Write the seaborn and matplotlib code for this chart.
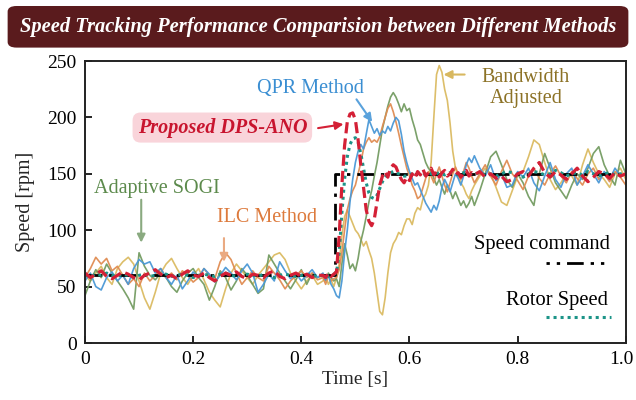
import numpy as np
import pandas as pd
import matplotlib
matplotlib.use("Agg")
import matplotlib.pyplot as plt
import matplotlib.transforms as mtransforms
from matplotlib.patches import FancyBboxPatch
import seaborn as sns

# Sampling instants [s]: 10 ms steps, 5 ms steps around the speed step
time = np.concatenate([np.arange(0, 44) / 100,
                       0.44 + np.arange(56) * 0.005,
                       np.arange(72, 101) / 100])

cmd_time = [0.0, 0.463, 0.463, 1.0]
cmd_speed = [60, 60, 150, 150]

proposed = (
    [62, 58, 61, 64, 59, 57, 60, 63, 61, 58, 56, 60, 62, 65, 61, 58, 60, 57, 61, 64, 60, 59,
     62, 58, 55, 59, 62, 60, 63, 59, 57, 61, 60, 58, 62, 64, 59, 57, 60, 62, 59, 61, 58, 60]
    + [60, 58, 62, 59, 61, 63, 95, 140, 175, 196, 203, 204, 198, 180, 158, 138, 118, 108, 104, 110,
       125, 140, 148, 152, 147, 155, 158, 156, 150, 145, 142, 147, 144, 150, 146, 152, 149, 154,
       148, 151, 155, 149, 152, 147, 151, 153, 148, 150, 154, 149, 151, 147, 150, 153, 148, 151]
    + [149, 152, 147, 150, 146, 148, 143, 145, 150, 152, 148, 155, 160, 151, 147, 152, 149, 145,
       150, 155, 148, 143, 147, 152, 150, 146, 151, 148, 150]
)

rotor = (
    [60, 59, 61, 60, 62, 60, 59, 61, 60, 58, 60, 61, 59, 60, 62, 61, 59, 60, 61, 60, 58, 60,
     61, 60, 59, 61, 62, 60, 59, 60, 61, 60, 59, 61, 60, 58, 60, 61, 60, 59, 60, 61, 60, 59]
    + [60, 61, 59, 60, 61, 62, 80, 115, 145, 165, 176, 181, 182, 178, 168, 155, 142, 133, 129, 128,
       131, 137, 143, 147, 150, 151, 152, 151, 150, 149, 148, 148, 149, 150, 151, 151, 150, 149,
       150, 151, 150, 149, 150, 151, 150, 149, 150, 151, 150, 150, 149, 150, 151, 150, 149, 150]
    + [150, 151, 149, 150, 148, 150, 152, 151, 149, 147, 150, 152, 151, 149, 150, 153, 151, 148,
       150, 151, 149, 152, 150, 148, 150, 151, 149, 150, 150]
)

qpr = (
    [55, 62, 50, 47, 58, 63, 55, 60, 52, 66, 74, 70, 72, 62, 66, 58, 52, 60, 48, 55, 63, 58,
     66, 61, 54, 60, 67, 62, 56, 64, 70, 62, 45, 52, 61, 55, 72, 64, 57, 62, 55, 60, 65, 58]
    + [62, 56, 60, 52, 48, 42, 40, 55, 80, 100, 125, 145, 160, 170, 176, 172, 185, 198, 192, 186,
       190, 184, 188, 186, 192, 188, 195, 200, 197, 185, 170, 160, 152, 146, 140, 142, 136, 130,
       124, 120, 116, 122, 118, 126, 138, 145, 140, 134, 142, 150, 146, 140, 148, 158, 164, 160]
    + [166, 155, 148, 158, 144, 150, 138, 140, 152, 147, 155, 142, 135, 148, 160, 145, 138, 150,
       155, 140, 148, 158, 150, 142, 152, 145, 155, 148, 150]
)

ilc = (
    [58, 66, 76, 70, 75, 64, 68, 60, 52, 57, 50, 62, 55, 60, 66, 58, 62, 56, 64, 60, 54, 58,
     66, 60, 57, 72, 80, 74, 62, 52, 58, 64, 58, 55, 68, 62, 56, 48, 55, 60, 64, 58, 62, 56]
    + [58, 52, 60, 55, 57, 58, 65, 80, 100, 118, 128, 135, 140, 150, 160, 172, 178, 182, 178, 180,
       178, 183, 192, 200, 208, 212, 205, 196, 186, 175, 165, 155, 148, 140, 135, 128, 130, 138,
       146, 152, 148, 142, 150, 156, 148, 140, 134, 142, 150, 156, 150, 145, 152, 160, 155, 148]
    + [142, 150, 158, 148, 140, 152, 162, 150, 144, 136, 148, 155, 146, 140, 150, 157, 148, 142,
       152, 146, 140, 150, 155, 145, 150, 143, 152, 147, 140]
)

sogi = (
    [42, 55, 65, 58, 70, 62, 55, 48, 40, 30, 80, 68, 60, 56, 62, 58, 50, 45, 55, 62, 66, 58,
     52, 38, 50, 64, 58, 47, 55, 66, 60, 52, 44, 48, 78, 70, 62, 55, 48, 56, 65, 52, 62, 58]
    + [60, 55, 62, 58, 55, 57, 50, 70, 88, 78, 66, 70, 64, 75, 90, 100, 112, 125, 135, 148,
       160, 175, 190, 200, 210, 218, 222, 218, 212, 205, 212, 206, 208, 198, 190, 180, 176, 168,
       160, 155, 152, 146, 140, 145, 138, 132, 140, 135, 128, 134, 128, 122, 126, 120, 124, 130]
    + [122, 135, 150, 165, 170, 158, 145, 138, 150, 142, 130, 122, 150, 168, 155, 142, 135, 128,
       140, 150, 145, 155, 168, 174, 158, 148, 140, 162, 150]
)

bandwidth = (
    [60, 55, 62, 68, 58, 52, 66, 72, 76, 70, 55, 40, 30, 45, 62, 70, 75, 66, 58, 52, 60, 66,
     56, 45, 38, 32, 48, 62, 70, 64, 58, 52, 60, 66, 72, 78, 80, 74, 62, 55, 48, 55, 60, 52]
    + [55, 60, 52, 56, 50, 58, 70, 95, 112, 118, 112, 106, 100, 97, 92, 86, 90, 82, 75, 62,
       45, 28, 25, 40, 62, 80, 88, 92, 98, 96, 104, 110, 110, 105, 115, 120, 118, 128, 132, 140,
       160, 200, 238, 246, 240, 225, 215, 195, 170, 155, 148, 142, 138, 132, 128, 135]
    + [140, 148, 155, 150, 138, 125, 122, 135, 148, 152, 165, 180, 176, 160, 145, 136, 142, 150,
       148, 140, 158, 172, 160, 150, 145, 138, 150, 155, 145]
)

series = [
    ("Bandwidth Adjusted", bandwidth, "#dbbb62", 1.2),
    ("Adaptive SOGI", sogi, "#749c62", 1.2),
    ("ILC Method", ilc, "#e08c52", 1.2),
    ("QPR Method", qpr, "#4a98d6", 1.2),
]

sns.set_style("ticks")
plt.rcParams["font.family"] = ["Liberation Serif", "DejaVu Serif"]

fig = plt.figure(figsize=(6.36, 4.0), dpi=100)
ax = fig.add_axes([0.1336, 0.1425, 0.8504, 0.705])

for name, vals, color, lw in series:
    sns.lineplot(x=time, y=vals, ax=ax, color=color, lw=lw, alpha=0.95,
                 estimator=None, sort=False, legend=False)

sns.lineplot(x=cmd_time, y=cmd_speed, ax=ax, color="black", lw=2.0,
             estimator=None, sort=False, legend=False,
             linestyle=(0, (6, 2.5, 1.2, 2.5)))
sns.lineplot(x=time, y=rotor, ax=ax, color="#1c9488", lw=2.2,
             estimator=None, sort=False, legend=False, linestyle=(0, (1, 1.3)))
sns.lineplot(x=time, y=proposed, ax=ax, color="#d42036", lw=2.3,
             estimator=None, sort=False, legend=False, linestyle=(0, (3.5, 1.6)))

ax.set_xlim(0, 1.0)
ax.set_ylim(0, 250)
ax.set_xticks([0, 0.2, 0.4, 0.6, 0.8, 1.0])
ax.set_xticklabels(["0", "0.2", "0.4", "0.6", "0.8", "1.0"])
ax.set_yticks([0, 50, 100, 150, 200, 250])
ax.tick_params(direction="in", length=5, width=1.2, labelsize=14, colors="black",
               top=False, right=False, pad=6)
# keep the last x tick label inside the canvas
last = ax.get_xticklabels()[-1]
last.set_transform(last.get_transform()
                   + mtransforms.ScaledTranslation(-4 / 100, 0, fig.dpi_scale_trans))
for s in ax.spines.values():
    s.set_visible(True)
    s.set_linewidth(1.4)
    s.set_color("#222222")
ax.set_xlabel("Time [s]", fontsize=14, labelpad=2)
ax.set_ylabel("Speed [rpm]", fontsize=14.5, labelpad=9)

# Method labels with pointer arrows
ax.text(0.417, 226, "QPR Method", color="#3a8ed2", fontsize=14.5, ha="center", va="center")
ax.annotate("", xy=(0.531, 196), xytext=(0.502, 216),
            arrowprops=dict(arrowstyle="-|>", color="#5aa2dc", lw=1.5,
                            mutation_scale=12, shrinkA=0, shrinkB=0))
ax.text(0.254, 191, "Proposed DPS-ANO", color="#c8142e", fontsize=14.5,
        fontweight="bold", fontstyle="italic", ha="center", va="center",
        bbox=dict(boxstyle="round,pad=0.25,rounding_size=0.4", fc="#f9d4da", ec="none"))
ax.annotate("", xy=(0.478, 194), xytext=(0.431, 190.5),
            arrowprops=dict(arrowstyle="-|>", color="#d42036", lw=1.5,
                            mutation_scale=12, shrinkA=0, shrinkB=0))
ax.text(0.133, 137, "Adaptive SOGI", color="#5c8a4c", fontsize=14.5,
        ha="center", va="center")
ax.annotate("", xy=(0.104, 89), xytext=(0.104, 127),
            arrowprops=dict(arrowstyle="-|>", color="#8aaa80", lw=1.5,
                            mutation_scale=12, shrinkA=0, shrinkB=0))
ax.text(0.337, 111, "ILC Method", color="#dd7a3c", fontsize=14.5,
        ha="center", va="center")
ax.annotate("", xy=(0.257, 72), xytext=(0.257, 93),
            arrowprops=dict(arrowstyle="-|>", color="#eaaa82", lw=1.5,
                            mutation_scale=12, shrinkA=0, shrinkB=0))
ax.text(0.815, 226, "Bandwidth\nAdjusted", color="#8c7226", fontsize=14.5,
        ha="center", va="center", linespacing=1.15)
ax.annotate("", xy=(0.663, 238), xytext=(0.702, 238),
            arrowprops=dict(arrowstyle="-|>", color="#d8b860", lw=1.5,
                            mutation_scale=12, shrinkA=0, shrinkB=0))

# Key for the command and rotor speed traces
ax.text(0.970, 87, "Speed command", color="black", fontsize=14.8, ha="right", va="center")
ax.plot([0.852, 0.963], [71, 71], color="black", lw=2.0,
        linestyle=(0, (1.2, 2.5, 1.2, 2.5, 6, 2.5)))
ax.text(0.967, 38, "Rotor Speed", color="black", fontsize=14.8, ha="right", va="center")
ax.plot([0.852, 0.972], [23, 23], color="#1c9488", lw=2.2, linestyle=(0, (1, 1.3)))

# Title banner
banner = FancyBboxPatch((0.012, 0.881), 0.976, 0.104,
                        boxstyle="round,pad=0,rounding_size=0.014",
                        transform=fig.transFigure, fc="#5a1b1d", ec="none")
fig.patches.append(banner)
fig.text(0.5, 0.932, "Speed Tracking Performance Comparision between Different Methods",
         color="white", fontsize=14.8, fontweight="bold", fontstyle="italic",
         ha="center", va="center")

fig.savefig("out.png", dpi=100, facecolor="white")
